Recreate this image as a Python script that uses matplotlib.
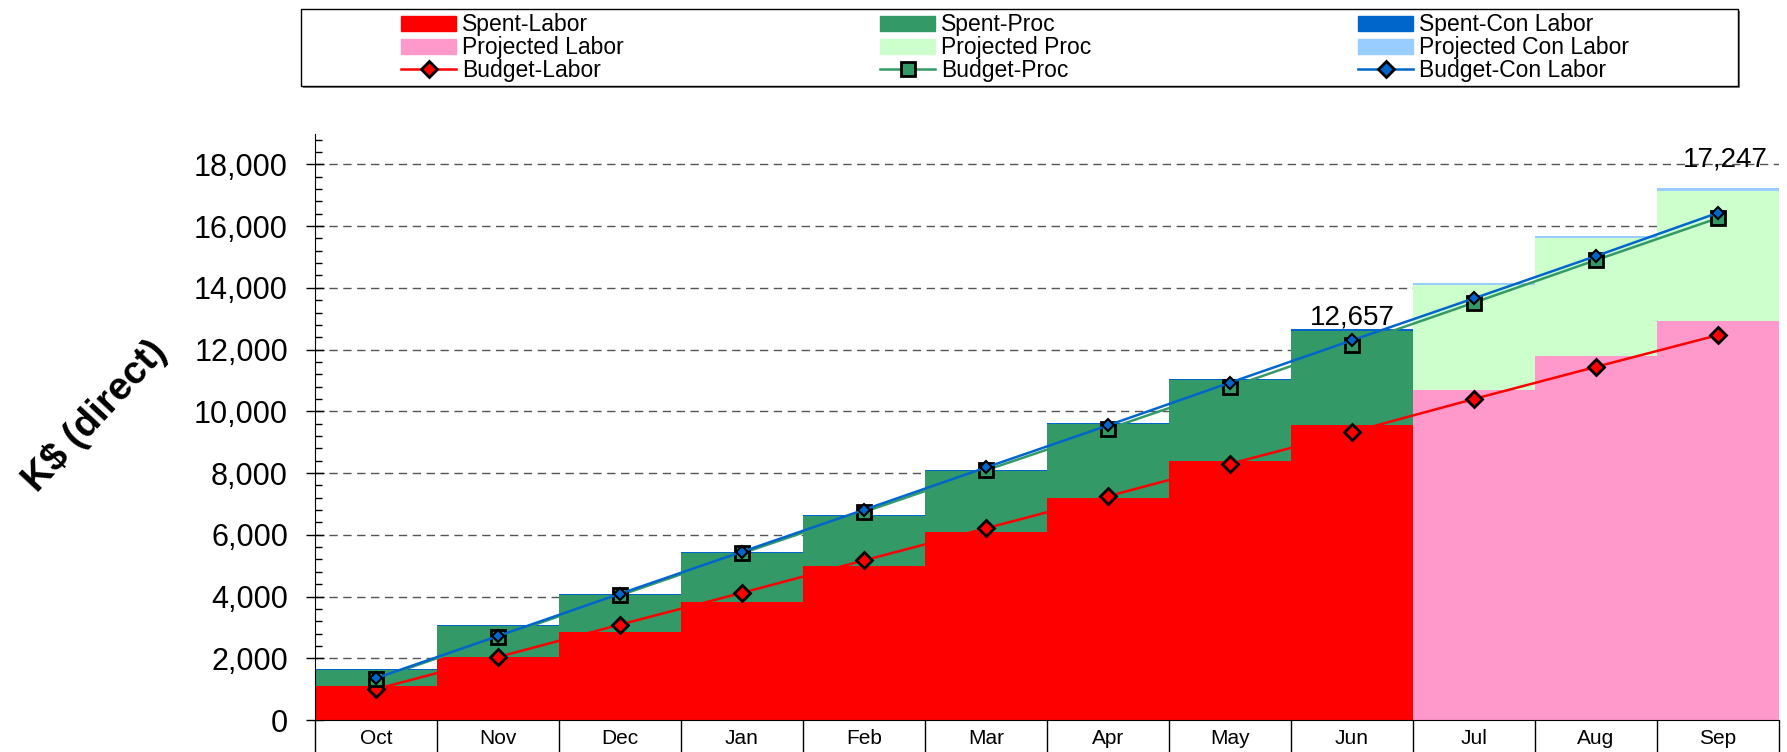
'''
Cumulative spend vs budget by month (labor / procurement / contract labor)
'''
import matplotlib
matplotlib.use('Agg')
import matplotlib.pyplot as plt
from matplotlib.patches import Patch, Rectangle
from matplotlib.lines import Line2D
from matplotlib.ticker import MultipleLocator, FuncFormatter
import numpy as np

plt.rcParams['font.family'] = ['Liberation Sans', 'DejaVu Sans']

#%% data (K$, cumulative)
months = ['Oct', 'Nov', 'Dec', 'Jan', 'Feb', 'Mar', 'Apr', 'May', 'Jun', 'Jul', 'Aug', 'Sep']

# actuals, Oct..Jun (stacked pieces)
spent_labor = [1110, 2050, 2835, 3830, 4975, 6085, 7190, 8380, 9545]
spent_proc = [510, 1005, 1217, 1587, 1624, 1991, 2399, 2625, 3062]
spent_con = [20, 25, 30, 30, 35, 35, 40, 45, 50]

# projection, Jul..Sep (stacked pieces)
proj_labor = [10680, 11805, 12940]
proj_proc = [3420, 3795, 4197]
proj_con = [63, 75, 110]

# budget lines (cumulative)
budget_labor = [1000, 2040, 3090, 4120, 5170, 6210, 7250, 8300, 9330, 10400, 11440, 12470]
budget_proc = [1320, 2680, 4040, 5400, 6740, 8090, 9430, 10780, 12150, 13520, 14900, 16260]
budget_con = [1355, 2720, 4090, 5450, 6810, 8180, 9545, 10930, 12300, 13660, 15030, 16430]

colors = {
    'labor': '#FF0000', 'proc': '#339966', 'con': '#0066CC',
    'p_labor': '#FF99CC', 'p_proc': '#CCFFCC', 'p_con': '#99CCFF',
}

W, H = 1787, 752


def main():
    fig = plt.figure(figsize=(W / 100, H / 100), dpi=100)
    ax = fig.add_axes([315 / W, 32 / H, 1464 / W, 586.5 / H])

    n_sp = len(spent_labor)
    x_sp = np.arange(n_sp)
    x_pr = np.arange(n_sp, len(months))
    x_all = np.arange(len(months))

    # stacked step bars
    sl = np.array(spent_labor)
    sp = np.array(spent_proc)
    ax.bar(x_sp, sl, width=1.0, color=colors['labor'], linewidth=0)
    ax.bar(x_sp, sp, bottom=sl, width=1.0, color=colors['proc'], linewidth=0)
    ax.bar(x_sp, spent_con, bottom=sl + sp, width=1.0, color=colors['con'], linewidth=0)

    pl = np.array(proj_labor)
    pp = np.array(proj_proc)
    ax.bar(x_pr, pl, width=1.0, color=colors['p_labor'], linewidth=0)
    ax.bar(x_pr, pp, bottom=pl, width=1.0, color=colors['p_proc'], linewidth=0)
    ax.bar(x_pr, proj_con, bottom=pl + pp, width=1.0, color=colors['p_con'], linewidth=0)

    # budget lines
    st_labor = dict(color=colors['labor'], lw=1.8, marker='D', ms=8.5,
                    mfc=colors['labor'], mec='black', mew=2)
    st_proc = dict(color=colors['proc'], lw=1.8, marker='s', ms=10,
                   mfc=colors['proc'], mec='black', mew=2)
    st_con = dict(color=colors['con'], lw=1.8, marker='D', ms=6.5,
                  mfc=colors['con'], mec='black', mew=1.5)
    ax.plot(x_all, budget_labor, zorder=4, **st_labor)
    ax.plot(x_all, budget_proc, zorder=5, **st_proc)
    ax.plot(x_all, budget_con, zorder=6, **st_con)

    # totals
    jun_total = sl[-1] + sp[-1] + spent_con[-1]
    sep_total = pl[-1] + pp[-1] + proj_con[-1]
    ax.annotate(f'{jun_total:,.0f}', (x_sp[-1], jun_total), xytext=(0, 3.6),
                textcoords='offset points', ha='center', va='baseline', fontsize=20)
    ax.annotate(f'{sep_total:,.0f}', (x_pr[-1], sep_total), xytext=(5, 15.5),
                textcoords='offset points', ha='center', va='baseline', fontsize=20)

    # axes styling
    ax.set_xlim(-0.5, len(months) - 0.5)
    ax.set_ylim(0, 19000)
    ax.yaxis.set_major_locator(MultipleLocator(2000))
    ax.yaxis.set_minor_locator(MultipleLocator(400))
    ax.yaxis.set_major_formatter(FuncFormatter(lambda v, p: f'{v:,.0f}'))
    ax.tick_params(axis='y', which='major', direction='inout', length=13, width=1,
                   labelsize=22, pad=13)
    ax.tick_params(axis='y', which='minor', direction='in', length=5, width=1)
    ax.set_xticks(np.arange(-0.5, len(months), 1.0))
    ax.set_xticklabels([])
    ax.set_xticks(x_all, minor=True)
    ax.set_xticklabels(months, minor=True)
    ax.tick_params(axis='x', which='major', direction='out', length=24, width=1)
    ax.tick_params(axis='x', which='minor', length=0, labelsize=15, pad=6.5)

    ax.grid(axis='y', which='major', color='#555555', linestyle=(0, (6, 4)), lw=1)
    ax.set_axisbelow(True)
    for s in ['top', 'right']:
        ax.spines[s].set_visible(False)

    fig.text(95 / W, 1 - 416 / H, 'K$ (direct)', rotation=47, fontsize=28,
             fontweight='bold', ha='center', va='center')

    # legend box (with a little shadow)
    fig.patches.append(Rectangle((303 / W, 1 - 88 / H), 1437 / W, 77 / H,
                                 transform=fig.transFigure, facecolor='#808080',
                                 edgecolor='none', zorder=0))
    fig.patches.append(Rectangle((301 / W, 1 - 85.5 / H), 1437 / W, 77 / H,
                                 transform=fig.transFigure, facecolor='white',
                                 edgecolor='black', lw=1, zorder=1))
    legend_cols = [
        (401, [Patch(color=colors['labor'], label='Spent-Labor'),
               Patch(color=colors['p_labor'], label='Projected Labor'),
               Line2D([], [], label='Budget-Labor', **st_labor)]),
        (880, [Patch(color=colors['proc'], label='Spent-Proc'),
               Patch(color=colors['p_proc'], label='Projected Proc'),
               Line2D([], [], label='Budget-Proc', **st_proc)]),
        (1358, [Patch(color=colors['con'], label='Spent-Con Labor'),
                Patch(color=colors['p_con'], label='Projected Con Labor'),
                Line2D([], [], label='Budget-Con Labor',
                       **dict(st_con, ms=8.5, mew=2))]),
    ]
    for x0, handles in legend_cols:
        leg = fig.legend(handles=handles, loc='center left',
                         bbox_to_anchor=(x0 / W, 1 - 47.7 / H),
                         frameon=False, fontsize=16.5, handlelength=2.4,
                         handleheight=0.62, handletextpad=0.25, labelspacing=0.0,
                         borderpad=0, borderaxespad=0)
        leg.set_zorder(3)

    plt.savefig('out.png', dpi=100)


if __name__ == "__main__":
    main()
